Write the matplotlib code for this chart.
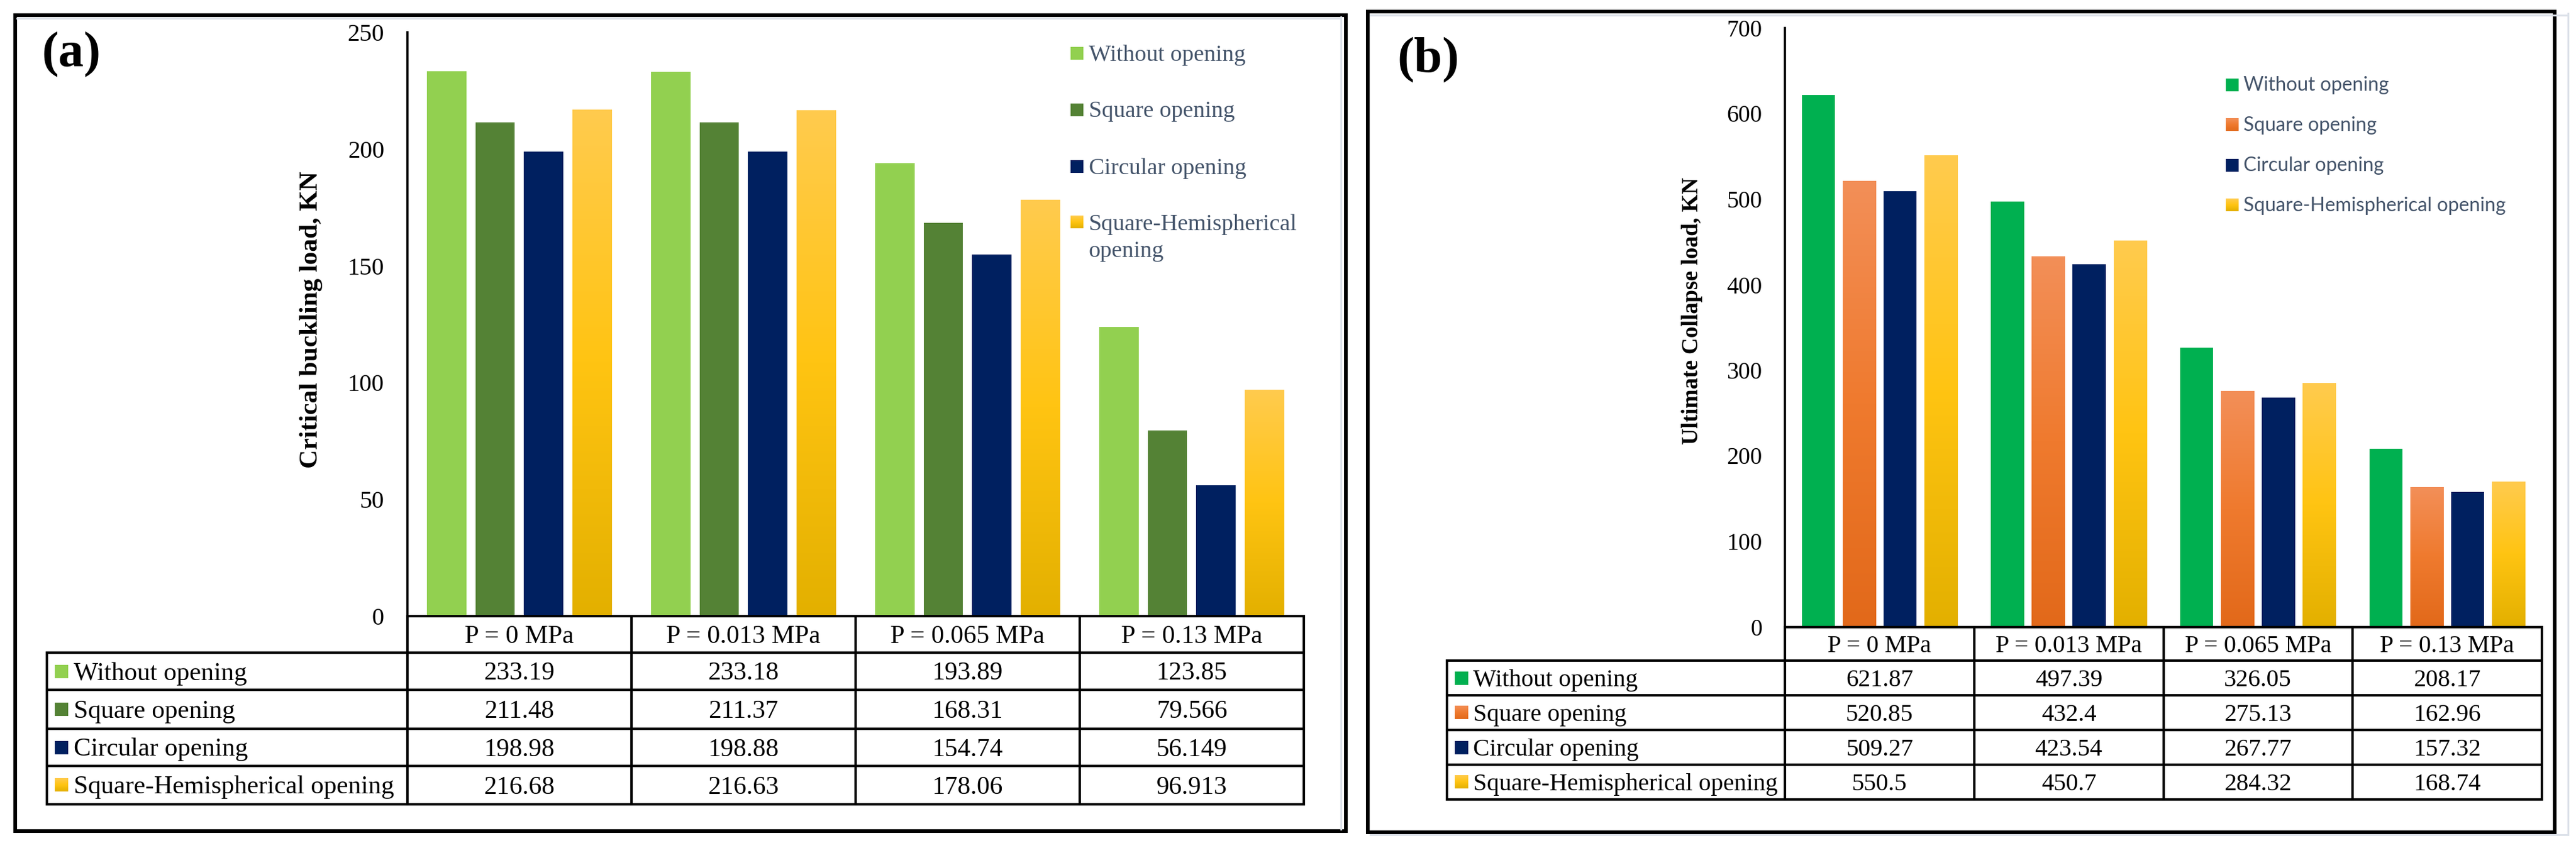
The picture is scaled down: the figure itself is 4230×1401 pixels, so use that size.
import numpy as np
import matplotlib
matplotlib.use("Agg")
import matplotlib.pyplot as plt
from matplotlib.colors import to_rgb
from matplotlib.patches import Rectangle
from matplotlib.lines import Line2D

# ---------------- data ----------------
categories = ["P = 0 MPa", "P = 0.013 MPa", "P = 0.065 MPa", "P = 0.13 MPa"]
series_names = ["Without opening", "Square opening", "Circular opening",
                "Square-Hemispherical opening"]

buckling_without = [233.19, 233.18, 193.89, 123.85]
buckling_square = [211.48, 211.37, 168.31, 79.566]
buckling_circular = [198.98, 198.88, 154.74, 56.149]
buckling_sqhemi = [216.68, 216.63, 178.06, 96.913]

collapse_without = [621.87, 497.39, 326.05, 208.17]
collapse_square = [520.85, 432.4, 275.13, 162.96]
collapse_circular = [509.27, 423.54, 267.77, 157.32]
collapse_sqhemi = [550.5, 450.7, 284.32, 168.74]

yticks_a = [0, 50, 100, 150, 200, 250]
yticks_b = [0, 100, 200, 300, 400, 500, 600, 700]

ylabel_a = "Critical buckling load, KN"
ylabel_b = "Ultimate Collapse load, KN"

# ---------------- styling ----------------
W, H, DPI = 4230, 1401, 100
SERIF = "Liberation Serif"
SANS = "Lato"
LEG_COLOR = "#44546A"
GOLD = ["#FFCB4E", "#FFC412", "#E3B000"]
ORANGE = ["#F38F58", "#EF7A2E", "#E2691A"]
fills_a = ["#92D050", "#548235", "#002060", GOLD]
fills_b = ["#00B050", ORANGE, "#002060", GOLD]
BW, STEP = 0.175, 0.216

plt.rcParams["font.family"] = [SERIF, "DejaVu Sans"]

fig = plt.figure(figsize=(W / DPI, H / DPI), dpi=DPI)
fig.patch.set_facecolor("white")


def fx(x):
    return x / W


def fy(y):
    return 1 - y / H


def grad_img(stops, n=256):
    cols = np.array([to_rgb(c) for c in stops])
    t = np.linspace(0, 1, n)
    pos = np.linspace(0, 1, len(stops))
    img = np.stack([np.interp(t, pos, cols[:, k]) for k in range(3)], axis=1)
    return img[:, None, :]


def make_axes(l, r, t, b):
    return fig.add_axes([fx(l), fy(b), fx(r) - fx(l), fy(t) - fy(b)])


def draw_panel(ax, series, fills, ymax, yticks, tick_fs):
    x = np.arange(len(categories))
    n = len(series)
    for j, (vals, fill) in enumerate(zip(series, fills)):
        off = (j - (n - 1) / 2) * STEP
        solid = isinstance(fill, str)
        bars = ax.bar(x + off, vals, width=BW, color=fill if solid else "none",
                      linewidth=0, zorder=2)
        if not solid:
            img = grad_img(fill)
            for b in bars:
                x0, y0, w, h = b.get_x(), b.get_y(), b.get_width(), b.get_height()
                ax.imshow(img, extent=[x0, x0 + w, y0, y0 + h], aspect="auto",
                          interpolation="bilinear", zorder=2)
    ax.set_xlim(-0.5, len(categories) - 0.5)
    ax.set_ylim(0, ymax)
    ax.set_yticks(yticks)
    ax.set_yticklabels([str(v) for v in yticks], fontsize=tick_fs, family=SERIF)
    ax.tick_params(axis="y", length=0, pad=27)
    ax.set_xticks([])
    for s in ["top", "right", "bottom"]:
        ax.spines[s].set_visible(False)
    ax.spines["left"].set_linewidth(2.6)
    ax.set_facecolor("none")


# overlay axes in pixel coordinates
ov = fig.add_axes([0, 0, 1, 1], zorder=5)
ov.set_xlim(0, W)
ov.set_ylim(H, 0)
ov.axis("off")


def hline(y, x0, x1, lw=2.9, color="black"):
    ov.add_line(Line2D([x0, x1], [y, y], lw=lw, color=color, solid_capstyle="projecting"))


def vline(x, y0, y1, lw=2.9, color="black"):
    ov.add_line(Line2D([x, x], [y0, y1], lw=lw, color=color, solid_capstyle="projecting"))


def key_square(x0, yc, size, fill):
    if isinstance(fill, str):
        ov.add_patch(Rectangle((x0, yc - size / 2), size, size, color=fill, lw=0))
    else:
        ov.imshow(grad_img(fill), extent=[x0, x0 + size, yc + size / 2, yc - size / 2],
                  aspect="auto", interpolation="bilinear")


def draw_table(ax_l, ax_r, tab_l, rows, fills, series, sq_x, txt_x, fs, base_off):
    ncol = len(categories)
    colw = (ax_r - ax_l) / ncol
    # header top (axis baseline)
    hline(rows[0], ax_l, ax_r)
    for y in rows[1:]:
        hline(y, tab_l, ax_r)
    vline(tab_l, rows[1], rows[-1])
    for i in range(ncol + 1):
        vline(ax_l + i * colw, rows[0], rows[-1])
    # header texts
    hc = (rows[0] + rows[1]) / 2
    for i, c in enumerate(categories):
        ov.text(ax_l + (i + 0.5) * colw, hc + base_off, c, fontsize=fs, family=SERIF,
                ha="center", va="baseline", color="black")
    for r, (name, vals, fill) in enumerate(zip(series_names, series, fills)):
        rc = (rows[r + 1] + rows[r + 2]) / 2
        key_square(sq_x, rc, 22, fill)
        ov.text(txt_x, rc + base_off, name, fontsize=fs, family=SERIF,
                ha="left", va="baseline", color="black")
        for i, v in enumerate(vals):
            ov.text(ax_l + (i + 0.5) * colw, rc + base_off, f"{v:g}", fontsize=fs,
                    family=SERIF, ha="center", va="baseline", color="black")


# ---------------- panel (a) ----------------
series_a = [buckling_without, buckling_square, buckling_circular, buckling_sqhemi]
A_L, A_R, A_T, A_B = 668.5, 2141, 53, 1012
ax_a = make_axes(A_L, A_R, A_T, A_B)
draw_panel(ax_a, series_a, fills_a, 250, yticks_a, 29)
draw_table(A_L, A_R, 77, [1012, 1072, 1133, 1197, 1258, 1321], fills_a, series_a,
           90, 121, 30.5, 14)
ov.text(511, 525, ylabel_a, rotation=90, fontsize=31, fontweight="bold", family=SERIF,
        ha="center", va="center")
ov.text(68, 90, "(a)", fontsize=60, fontweight="bold", family=SERIF, ha="left", va="center")
# legend (a)
leg_a_y = [87.5, 180, 273, 365]
for name, fill, yc in zip(series_names, fills_a, leg_a_y):
    key_square(1758, yc, 21, fill)
    if name == "Square-Hemispherical opening":
        ov.text(1787.5, yc + 12.5, "Square-Hemispherical", fontsize=27.5, family=SERIF,
                color=LEG_COLOR, ha="left", va="baseline")
        ov.text(1787.5, yc + 57.5, "opening", fontsize=27.5, family=SERIF,
                color=LEG_COLOR, ha="left", va="baseline")
    else:
        ov.text(1787.5, yc + 12.5, name, fontsize=27.5, family=SERIF,
                color=LEG_COLOR, ha="left", va="baseline")
# frame (a)
hline(29.5, 28, 2202, lw=2.2, color="#DCE1E9")
vline(2202, 28, 1362, lw=2.2, color="#DCE1E9")
ov.add_patch(Rectangle((24.5, 24.5), 2210 - 24.5, 1365 - 24.5, fill=False, lw=4.3,
                       ec="black", joinstyle="miter"))

# ---------------- panel (b) ----------------
series_b = [collapse_without, collapse_square, collapse_circular, collapse_sqhemi]
B_L, B_R, B_T, B_B = 2931, 4174, 46, 1029.5
ax_b = make_axes(B_L, B_R, B_T, B_B)
draw_panel(ax_b, series_b, fills_b, 700, yticks_b, 28)
draw_table(B_L, B_R, 2376, [1029.5, 1085, 1142, 1199, 1256, 1313], fills_b, series_b,
           2389, 2419, 29, 13.5)
ov.text(2778, 511, ylabel_b, rotation=90, fontsize=27, fontweight="bold", family=SERIF,
        ha="center", va="center")
ov.text(2294, 99, "(b)", fontsize=60, fontweight="bold", family=SERIF, ha="left", va="center")
leg_b_y = [139, 205, 271, 337]
for name, fill, yc in zip(series_names, fills_b, leg_b_y):
    key_square(3655, yc, 21, fill)
    ov.text(3684, yc + 10, name, fontsize=23, family=[SANS, "DejaVu Sans"],
            color=LEG_COLOR, ha="left", va="baseline")
hline(25, 2250, 4216, lw=2.2, color="#DCE1E9")
vline(4216.5, 22, 1371, lw=2.2, color="#DCE1E9")
hline(1371, 2250, 4216, lw=2.2, color="#DCE1E9")
ov.add_patch(Rectangle((2246, 18.5), 4195 - 2246, 1367 - 18.5, fill=False, lw=4.3,
                       ec="black", joinstyle="miter"))

ov.set_xlim(0, W)
ov.set_ylim(H, 0)

fig.savefig("out.png", dpi=DPI, facecolor="white")
